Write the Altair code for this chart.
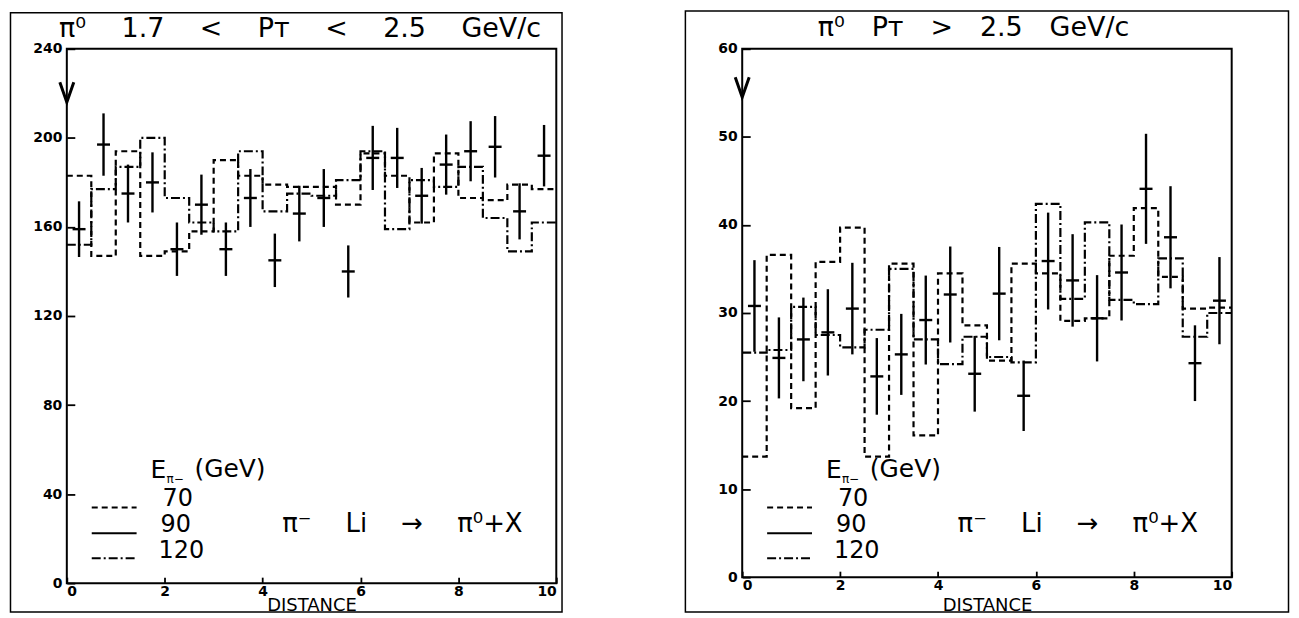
import altair as alt
import pandas as pd

# ---------------- data ----------------
bin_edges = [0.0, 0.5, 1.0, 1.5, 2.0, 2.5, 3.0, 3.5, 4.0, 4.5, 5.0,
             5.5, 6.0, 6.5, 7.0, 7.5, 8.0, 8.5, 9.0, 9.5, 10.0]
bin_centers = [0.25, 0.75, 1.25, 1.75, 2.25, 2.75, 3.25, 3.75, 4.25, 4.75,
               5.25, 5.75, 6.25, 6.75, 7.25, 7.75, 8.25, 8.75, 9.25, 9.75]

# left panel: pi0 1.7 < PT < 2.5 GeV/c
left_hist_70 = [183, 147, 194, 147, 149, 158, 190, 183, 179, 178,
                178, 170, 193, 183, 162, 193, 173, 172, 179, 177]
left_hist_120 = [152, 177, 187, 200, 173, 162, 158, 194, 167, 175,
                 174, 181, 194, 159, 181, 178, 187, 164, 149, 162]
left_pts_90 = [159, 197, 175, 180, 150, 170, 150, 173, 145, 166,
               173, 140, 191, 191, 174, 188, 194, 196, 167, 192]
left_err_90 = [12.5, 14, 13, 13.5, 12, 13.5, 12, 13, 12, 12.5,
               13, 11.7, 14.4, 13.5, 12.5, 13.5, 13.5, 13.8, 12.6, 13.8]

# right panel: pi0 PT > 2.5 GeV/c
right_hist_70 = [13.7, 36.6, 19.2, 35.8, 39.7, 13.7, 35.6, 16.1, 34.5, 28.6,
                 24.6, 35.6, 34.5, 29.1, 29.4, 36.5, 41.9, 34.1, 30.5, 30.6]
right_hist_120 = [25.5, 25.8, 30.7, 27.5, 26.1, 28.1, 35.0, 27.0, 24.2, 27.3,
                  25.0, 24.4, 42.4, 31.6, 40.3, 31.5, 31.0, 36.2, 27.3, 30.0]
right_pts_90 = [30.8, 24.9, 27.0, 27.8, 30.5, 22.8, 25.3, 29.2, 32.1, 23.1,
                32.2, 20.6, 35.9, 33.7, 29.4, 34.6, 44.1, 38.6, 24.3, 31.4]
right_err_90 = [5.2, 4.6, 4.75, 4.9, 5.2, 4.35, 4.6, 5.05, 5.45, 4.3,
                5.3, 4.0, 5.5, 5.25, 4.9, 5.45, 6.25, 5.8, 4.3, 4.95]

x_ticks = [0, 2, 4, 6, 8, 10]
left_y_ticks = [0, 40, 80, 120, 160, 200, 240]
right_y_ticks = [0, 10, 20, 30, 40, 50, 60]
left_arrow_value = 216
right_arrow_value = 54.5

G = " \u2003"   # wide, non-collapsing gap
left_title = "π⁰" + G + "1.7" + G + "<" + G + "Pᴛ" + G + "<" + G + "2.5" + G + "GeV/c"
right_title = "π⁰\u2003Pᴛ\u2003>\u20032.5\u2003GeV/c"
reaction = "π⁻" + G + "Li" + G + "→" + G + "π⁰+X"
legend_labels = ["70", "90", "120"]

FONT = "DejaVu Sans"
one = pd.DataFrame({"k": [0]})


def step_frame(vals):
    return pd.DataFrame({"distance": bin_edges, "count": list(vals) + [vals[-1]]})


def points_frame(vals, errs):
    df = pd.DataFrame({"distance": bin_centers, "count": vals, "err": errs})
    df["lo"] = df["count"] - df["err"]
    df["hi"] = df["count"] + df["err"]
    return df


def text_layer(txt, x, y, size, align="left"):
    return alt.Chart(one).mark_text(
        text=txt, font=FONT, fontSize=size, align=align, baseline="middle",
        color="black"
    ).encode(x=alt.value(x), y=alt.value(y))


def sample_layer(x1, x2, y, dash):
    kw = dict(color="black", strokeWidth=2)
    if dash:
        kw["strokeDash"] = dash
    return alt.Chart(one).mark_rule(**kw).encode(
        x=alt.value(x1), x2=alt.value(x2), y=alt.value(y))


def panel(h70, h120, pts, errs, ymax, yticks, arrow_value, W, H,
          title, title_x, title_y, frame_box, title_dy):
    xs = alt.Scale(domain=[0, 10], nice=False, zero=False)
    ys = alt.Scale(domain=[0, ymax], nice=False, zero=True)
    xax = alt.Axis(values=x_ticks, tickSize=6, offset=-6, domain=False, grid=False,
                   labelFont=FONT, labelFontSize=14, labelFontWeight="bold",
                   labelColor="black", labelPadding=1, tickColor="black",
                   tickWidth=1.8, title="DISTANCE", titleFont=FONT,
                   titleFontSize=18, titleFontWeight="normal", titleColor="black",
                   titleY=title_dy, titleBaseline="middle")
    yax = alt.Axis(values=yticks, tickSize=8, offset=-8, domain=False, grid=False,
                   labelFont=FONT, labelFontSize=14, labelFontWeight="bold",
                   labelColor="black", labelPadding=5, tickColor="black",
                   tickWidth=1.8, title="")
    X = alt.X("distance:Q", scale=xs, axis=xax)
    Y = alt.Y("count:Q", scale=ys, axis=yax)

    hist70 = alt.Chart(step_frame(h70)).mark_line(
        interpolate="step-after", color="black", strokeWidth=2.2,
        strokeDash=[6, 4]).encode(x=X, y=Y)
    hist120 = alt.Chart(step_frame(h120)).mark_line(
        interpolate="step-after", color="black", strokeWidth=2.2,
        strokeDash=[9, 3, 2, 3]).encode(x=X, y=Y)

    pdf = points_frame(pts, errs)
    bars = alt.Chart(pdf).mark_rule(color="black", strokeWidth=2.4).encode(
        x=X, y=alt.Y("lo:Q", scale=ys, axis=yax), y2="hi:Q")
    ticks = alt.Chart(pdf).mark_tick(
        orient="horizontal", color="black", size=13, thickness=2.4,
        opacity=1).encode(x=X, y=Y)

    arrow = alt.Chart(pd.DataFrame({"distance": [0], "count": [arrow_value]})).mark_point(
        shape="M-0.35,-1L0,0L0.35,-1", size=1600, filled=False, color="black",
        strokeWidth=3, opacity=1).encode(x=X, y=Y)

    fx1, fx2, fy1, fy2 = frame_box
    frame = alt.Chart(one).mark_rect(
        fillOpacity=0, stroke="black", strokeWidth=1.5).encode(
        x=alt.value(fx1), x2=alt.value(fx2), y=alt.value(fy1), y2=alt.value(fy2))

    layers = [
        frame, hist70, hist120, bars, ticks, arrow,
        text_layer(title, title_x, title_y, 27, align="center"),
        # legend
        text_layer("E", 84, 423, 25),
        text_layer("π−", 100, 432, 12),
        text_layer("(GeV)", 128, 422, 25),
        text_layer(legend_labels[0], 96, 452, 24),
        text_layer(legend_labels[1], 94, 478, 24),
        text_layer(legend_labels[2], 92, 504, 24),
        sample_layer(25, 70, 460, [6, 4]),
        sample_layer(25, 70, 486, None),
        sample_layer(25, 70, 511, [9, 3, 2, 3]),
        text_layer(reaction, 216, 477, 26),
    ]
    return alt.layer(*layers).properties(width=W, height=H)


left = panel(left_hist_70, left_hist_120, left_pts_90, left_err_90, 240,
             left_y_ticks, left_arrow_value, 491, 536,
             left_title, 234, -20, (-56.5, 496.75, -36.25, 565), 28)
right = panel(right_hist_70, right_hist_120, right_pts_90, right_err_90, 60,
              right_y_ticks, right_arrow_value, 491, 530,
              right_title, 232, -21, (-57, 548, -38, 565), 34)

chart = alt.hconcat(left, right, spacing=186.5).properties(
    bounds="flush", padding=0
).configure(background="white").configure_view(stroke="black", strokeWidth=2)

chart.save("out.html", embed_options={"renderer": "svg", "actions": False})
